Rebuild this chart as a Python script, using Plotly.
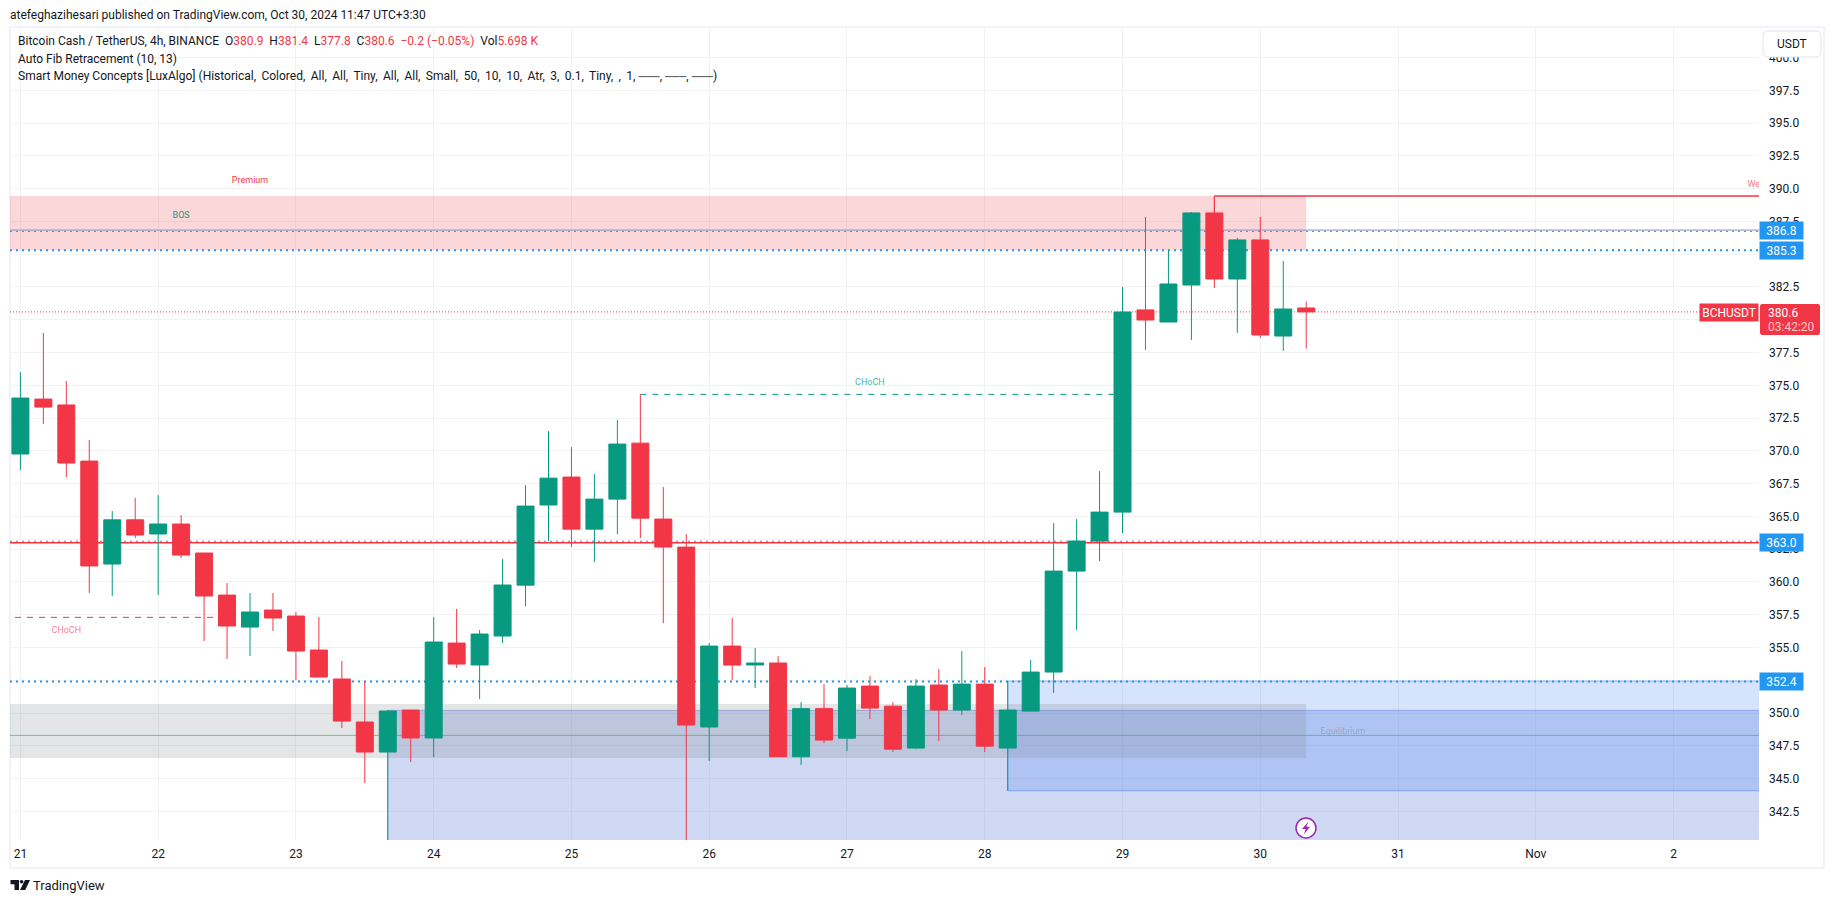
import plotly.graph_objects as go

W, H = 1835, 903
PL, PR, PT, PB = 10, 1759, 27, 840

day_ticks = [0, 6, 12, 18, 24, 30, 36, 42, 48, 54, 60, 66, 72]
day_labels = ["21", "22", "23", "24", "25", "26", "27", "28", "29", "30", "31", "Nov", "2"]
price_ticks = [342.5, 345, 347.5, 350, 352.5, 355, 357.5, 360, 362.5, 365, 367.5, 370, 372.5, 375,
               377.5, 380, 382.5, 385, 387.5, 390, 392.5, 395, 397.5, 400]
x_range = [-0.453, 75.72]
y_range = [340.32, 402.33]

opens = [369.76, 373.95, 373.50, 369.22, 361.37, 364.74, 363.66, 364.42, 362.21, 359.0, 356.56, 357.86,
         357.40, 354.81, 352.6, 349.32, 347.03, 350.23, 348.1, 355.34, 353.67, 355.88, 359.76, 365.87,
         368.0, 364.03, 366.32, 370.59, 364.8, 362.66, 348.94, 355.11, 353.67, 353.82, 346.67, 350.34,
         348.09, 352.06, 350.53, 347.33, 352.14, 350.23, 352.21, 347.33, 350.15, 353.13, 360.83, 363.12,
         365.33, 380.75, 379.83, 382.65, 388.15, 383.11, 386.09, 378.76, 380.9]
highs = [376.01, 379.0, 375.33, 370.83, 365.41, 366.40, 366.63, 365.11, 362.21, 359.92, 359.16, 359.16,
         357.71, 357.33, 353.97, 352.45, 350.23, 350.23, 357.33, 357.94, 356.34, 361.75, 367.39, 371.51,
         370.29, 368.23, 372.35, 374.31, 367.24, 363.65, 355.34, 357.25, 354.96, 354.35, 350.84, 352.21,
         352.14, 352.82, 350.84, 352.59, 353.36, 354.73, 353.51, 352.44, 354.04, 364.49, 364.8, 368.46,
         382.5, 387.84, 385.32, 388.22, 389.44, 386.24, 387.84, 384.48, 381.4]
lows = [368.54, 372.05, 368.0, 359.16, 358.93, 363.35, 359.0, 361.83, 355.5, 354.12, 354.35, 356.26,
        352.52, 352.75, 348.86, 344.66, 340.0, 346.27, 346.65, 353.44, 351.07, 355.34, 358.16, 363.12,
        362.66, 361.52, 363.65, 363.35, 356.86, 340.0, 346.34, 352.52, 351.91, 346.67, 346.03, 347.71,
        347.1, 349.54, 347.03, 347.25, 347.86, 349.85, 347.03, 344.08, 350.15, 351.53, 356.33, 361.59,
        363.73, 377.7, 379.83, 378.46, 382.42, 379.0, 378.61, 377.62, 377.8]
closes = [374.03, 373.34, 369.07, 361.22, 364.74, 363.58, 364.42, 362.05, 358.93, 356.64, 357.71, 357.25,
          354.73, 352.75, 349.39, 347.03, 350.16, 348.1, 355.42, 353.74, 356.03, 359.77, 365.79, 367.92,
          364.03, 366.32, 370.52, 364.87, 362.66, 349.09, 355.11, 353.66, 353.82, 346.67, 350.34, 347.94,
          351.91, 350.38, 347.25, 352.06, 350.23, 352.21, 347.48, 350.23, 353.13, 360.83, 363.12, 365.33,
          380.59, 379.98, 382.73, 388.15, 383.11, 386.09, 378.84, 380.82, 380.6]
bar_index = list(range(len(opens)))

UP, DOWN, BLUE, INK = "#089981", "#F23645", "#2196F3", "#131722"
last_price = 380.6
fib_a, fib_b, fib_c, fib_d = 386.8, 385.3, 363.0, 352.4
zone_end = 56

def px(v):
    return (v - PL) / (PR - PL)

def py(v):
    return (PB - v) / (PB - PT)

def zone(x0, x1, y0, y1, fill, line=None):
    return dict(type="rect", xref="x", yref="y", x0=x0, x1=x1, y0=y0, y1=y1, fillcolor=fill,
                line=dict(width=1 if line else 0, color=line or "rgba(0,0,0,0)"), layer="between")

def hline(x0, x1, y, color, width=1, dash="solid"):
    return dict(type="line", xref="x", yref="y", x0=x0, x1=x1, y0=y, y1=y,
                line=dict(color=color, width=width, dash=dash), layer="between")

L, R = x_range
shapes = [
    zone(16, R + 1, 330, 350.21, "rgba(67,103,211,0.25)", "rgba(67,103,211,0.4)"),
    zone(43, R + 1, 344.08, 352.44, "rgba(50,115,245,0.2)", "rgba(50,115,245,0.45)"),
    zone(L - 1, zone_end, 346.57, 350.69, "rgba(120,123,134,0.2)"),
    zone(L - 1, zone_end, 385.3, 389.44, "rgba(242,54,69,0.2)"),
    hline(L, R, 348.3, "rgba(76,175,80,0.7)", 1),
    hline(L, R, last_price, DOWN, 1, "1px,2px"),
    hline(L, R, fib_a - 0.06, BLUE, 1, "2px,4px"),
    hline(L, R, fib_a + 0.04, "#7f93bd", 1),
    hline(L, R, fib_b, BLUE, 2, "2px,4px"),
    hline(L, R, fib_c + 0.11, BLUE, 1, "2px,4px"),
    hline(L, R, fib_c, "#F4333F", 1.5),
    hline(L, R, fib_d, BLUE, 2, "2px,4px"),
    hline(27, 48, 374.31, UP, 1, "6px,6px"),
    hline(-0.235, 9, 357.3, DOWN, 1, "6px,6px"),
    hline(52, R, 389.44, DOWN, 1.5),
    dict(type="line", xref="x", yref="y", x0=52, x1=52, y0=388.15, y1=389.44,
         line=dict(color=DOWN, width=1), layer="between"),
    # page frame
    dict(type="rect", xref="paper", yref="paper", x0=px(10), x1=px(1824), y0=py(27), y1=py(868),
         line=dict(color="#F0F3FA", width=2), fillcolor="rgba(0,0,0,0)", layer="below"),
]

def path(points):
    return "M" + " L".join(f"{px(a):.6f},{py(b):.6f}" for a, b in points) + " Z"

def rounded(x0, y0, x1, y1, r):
    k = r * 0.3
    pts = [("M", x0 + r, y0), ("L", x1 - r, y0), ("Q", x1 - k, y0 + 0, x1, y0 + r), ("L", x1, y1 - r),
           ("Q", x1, y1 - k, x1 - r, y1), ("L", x0 + r, y1), ("Q", x0 + k, y1, x0, y1 - r),
           ("L", x0, y0 + r), ("Q", x0, y0 + k, x0 + r, y0)]
    out = ""
    for p in pts:
        cmd, vals = p[0], p[1:]
        coords = [f"{px(vals[i]):.6f},{py(vals[i + 1]):.6f}" for i in range(0, len(vals), 2)]
        out += cmd + " ".join(coords) + " "
    return out + "Z"

shapes.append(dict(type="path", xref="paper", yref="paper", path=rounded(1763, 31, 1821, 57, 4),
                   fillcolor="white", line=dict(color="#E0E3EB", width=1), layer="above"))
# last-price tag background
shapes.append(dict(type="path", xref="paper", yref="paper", path=rounded(1760, 304, 1820, 335, 2),
                   fillcolor=DOWN, line=dict(width=0), layer="above"))
# alert circle with bolt
shapes.append(dict(type="circle", xref="paper", yref="paper", x0=px(1296), x1=px(1316), y0=py(818), y1=py(838),
                   fillcolor="white", line=dict(color="#9C27B0", width=1.5), layer="above"))
shapes.append(dict(type="path", xref="paper", yref="paper",
                   path=path([(1308.5, 821.5), (1302, 829), (1305.7, 829), (1303.8, 834.5), (1310, 826.8), (1306.3, 826.8)]),
                   fillcolor="#9C27B0", line=dict(width=0), layer="above"))
# logo
shapes.append(dict(type="path", xref="paper", yref="paper",
                   path=path([(10.5, 880), (19, 880), (19, 890), (14.5, 890), (14.5, 884.2), (10.5, 884.2)]),
                   fillcolor=INK, line=dict(width=0), layer="above"))
shapes.append(dict(type="circle", xref="paper", yref="paper", x0=px(19.8), x1=px(23.4), y0=py(880), y1=py(883.6),
                   fillcolor=INK, line=dict(width=0), layer="above"))
shapes.append(dict(type="path", xref="paper", yref="paper",
                   path=path([(25, 880), (30, 880), (25.2, 890), (20, 890)]),
                   fillcolor=INK, line=dict(width=0), layer="above"))

FONT = "Roboto, sans-serif"

def note(x, y, text, size=12, color=INK, anchor="left", **kw):
    return dict(xref="paper", yref="paper", x=px(x), y=py(y), text=text, showarrow=False, xanchor=anchor,
                yanchor="middle", align="left", font=dict(family=FONT, size=size, color=color), borderpad=0,
                borderwidth=0, **kw)

def tag(value, label):
    return dict(xref="paper", yref="y", x=px(1759), y=value, text=label, showarrow=False, xanchor="left",
                yanchor="middle", bgcolor=BLUE, width=43, height=17, borderpad=0,
                font=dict(family=FONT, size=12, color="white"))

def r(s):
    return f'<span style="color:{DOWN}">{s}</span>'

GAP = "\u00a0\u00a0"
legend_1 = ("Bitcoin Cash / TetherUS, 4h, BINANCE" + GAP + "O" + r("380.9") + GAP + "H" + r("381.4") + GAP + "L" +
            r("377.8") + GAP + "C" + r("380.6") + GAP + r("\u22120.2 (\u22120.05%)") + GAP + "Vol" + r("5.698 K"))
legend_2 = "Auto Fib Retracement (10, 13)"
params = ["Historical", "Colored", "All", "All", "Tiny", "All", "All", "Small", "50", "10", "10", "Atr", "3", "0.1",
          "Tiny", "", "1"]
dash_run = '<span style="font-size:10px">\u2500\u2500\u2500</span>'
legend_3 = ("Smart Money Concepts [LuxAlgo] (" + ",\u2009 ".join(params) + ", " + dash_run + ", " + dash_run + ", " +
            dash_run + ")")

annotations = [
    note(10, 15, "atefeghazihesari published on TradingView.com, Oct 30, 2024 11:47 UTC+3:30"),
    note(18, 41.5, legend_1),
    note(18, 58.5, legend_2),
    note(18, 76, legend_3),
    note(33, 885.5, "TradingView", size=13),
    note(1792, 44, "USDT", anchor="center"),
    tag(fib_a, "386.8"), tag(fib_b, "385.3"), tag(fib_c, "363.0"), tag(fib_d, "352.4"),
    dict(xref="paper", yref="y", x=px(1759), y=last_price - 0.05, text="BCHUSDT", showarrow=False, xanchor="right",
         yanchor="middle", bgcolor=DOWN, width=58, height=17, borderpad=0,
         font=dict(family=FONT, size=12, color="white")),
    note(1768, 312.5, "380.6", color="white"),
    note(1768, 327, "03:42:20", color="rgba(255,255,255,0.72)"),
]

label_text = ["Premium", "BOS", "CHoCH", "CHoCH", "Equilibrium", "Weak High"]
label_x = [10.0, 7.0, 37.0, 2.0, 57.6, 75.22]
label_y = [390.58, 387.93, 375.2, 356.3, 348.6, 390.3]
label_pos = ["middle center"] * 5 + ["middle right"]
label_color = [DOWN, UP, "rgba(8,153,129,0.75)", "rgba(242,54,69,0.65)", "rgba(120,123,134,0.45)", "rgba(242,54,69,0.7)"]

fig = go.Figure()
fig.add_trace(go.Candlestick(
    x=bar_index, open=opens, high=highs, low=lows, close=closes, whiskerwidth=0,
    increasing=dict(line=dict(color=UP, width=1), fillcolor=UP),
    decreasing=dict(line=dict(color=DOWN, width=1), fillcolor=DOWN),
    showlegend=False, hoverinfo="skip"))
fig.add_trace(go.Scatter(
    x=label_x, y=label_y, text=label_text, mode="text", textposition=label_pos,
    textfont=dict(family=FONT, size=9, color=label_color), showlegend=False, hoverinfo="skip", cliponaxis=True))

fig.update_layout(
    width=W, height=H, autosize=False, showlegend=False,
    margin=dict(l=PL, r=W - PR, t=PT, b=H - PB, pad=0),
    paper_bgcolor="white", plot_bgcolor="white", boxgap=0.26, boxgroupgap=0,
    shapes=shapes, annotations=annotations,
    font=dict(family=FONT, size=12, color=INK),
    xaxis=dict(range=x_range, tickvals=day_ticks, ticktext=day_labels, showgrid=True, gridcolor="#F2F2F3", gridwidth=1,
               zeroline=False, showline=False, ticks="", rangeslider=dict(visible=False), ticklabelstandoff=5,
               tickfont=dict(family=FONT, size=12, color=INK)),
    yaxis=dict(range=y_range, side="right", tickvals=price_ticks, ticktext=[f"{v:.1f}" for v in price_ticks],
               showgrid=True, gridcolor="#F2F2F3", gridwidth=1, zeroline=False, showline=False, ticks="",
               ticklabelstandoff=9, tickfont=dict(family=FONT, size=12, color=INK)),
)

fig.write_html("out.html", config=dict(displayModeBar=False),
               post_script="document.body.style.margin='0';document.body.style.overflow='hidden';")
